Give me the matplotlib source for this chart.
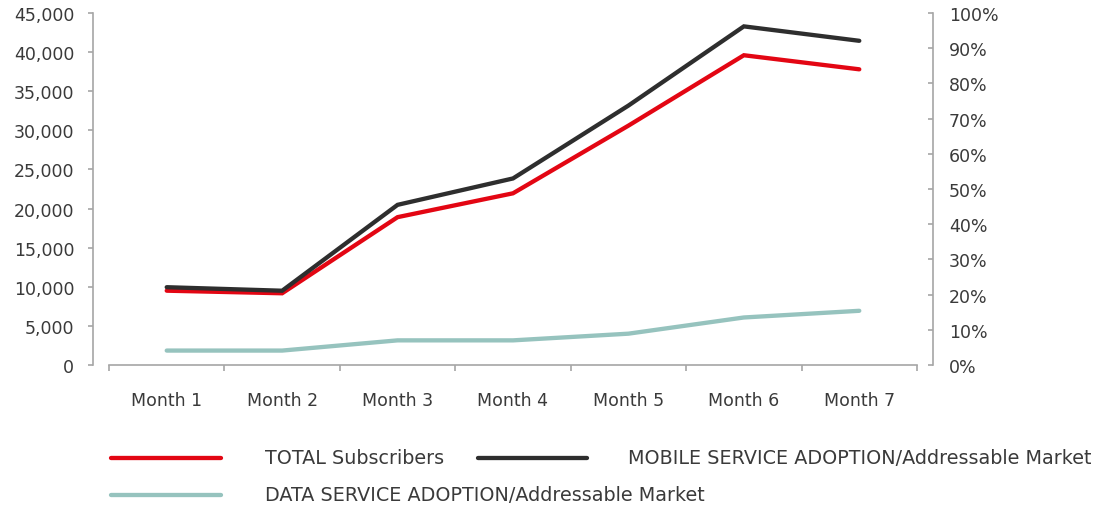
import matplotlib
matplotlib.use("Agg")
import matplotlib.pyplot as plt
from matplotlib.lines import Line2D
from matplotlib.ticker import FuncFormatter, FixedLocator
import numpy as np

months = ["Month 1", "Month 2", "Month 3", "Month 4", "Month 5", "Month 6", "Month 7"]
total_subscribers = [9500, 9170, 18900, 21950, 30600, 39600, 37800]
mobile_adoption = [22.1, 21.1, 45.5, 53.0, 73.7, 96.2, 92.1]
data_adoption = [4.1, 4.1, 7.0, 7.0, 8.9, 13.5, 15.4]

series_labels = ["TOTAL Subscribers",
                 "MOBILE SERVICE ADOPTION/Addressable Market",
                 "DATA SERVICE ADOPTION/Addressable Market"]
colors = ["#e30613", "#2e2e2e", "#96c3be"]

plt.rcParams['font.family'] = ['DejaVu Sans']
TXT = "#3a3a3a"
AX = "#a6a6a6"
FS = 12.5
LFS = 13.8

W, H = 1105, 510
fig = plt.figure(figsize=(W / 100, H / 100), dpi=100)
ax = fig.add_axes([109 / W, 1 - 366 / H, (917 - 109) / W, (366 - 14) / H])
ax2 = ax.twinx()

x = np.arange(len(months)) + 0.5
lw = 3.1
ax.plot(x, total_subscribers, color=colors[0], lw=lw, solid_capstyle='round', solid_joinstyle='miter')
ax2.plot(x, mobile_adoption, color=colors[1], lw=lw, solid_capstyle='round', solid_joinstyle='miter')
ax2.plot(x, data_adoption, color=colors[2], lw=lw, solid_capstyle='round', solid_joinstyle='miter')

ax.set_xlim(0, len(months))
ax.set_ylim(0, 45000)
ax2.set_ylim(0, 100)

# spines
for a in (ax, ax2):
    a.spines['top'].set_visible(False)
    for s in ('left', 'right', 'bottom'):
        a.spines[s].set_color(AX)
        a.spines[s].set_linewidth(1.2)
ax.spines['right'].set_visible(False)
ax2.spines['left'].set_visible(False)
ax2.spines['bottom'].set_visible(False)
ax.spines['left'].set_position(('outward', 11.5))
ax2.spines['right'].set_position(('outward', 11.5))

# left axis
ax.set_yticks(np.arange(0, 45001, 5000))
ax.yaxis.set_major_formatter(FuncFormatter(lambda v, p: f"{int(v):,}"))
ax.tick_params(axis='y', direction='out', length=3.5, width=1.2, color=AX,
               labelsize=FS, labelcolor=TXT, pad=10)

# right axis
ax2.set_yticks(np.arange(0, 101, 10))
ax2.yaxis.set_major_formatter(FuncFormatter(lambda v, p: f"{int(v)}%"))
ax2.tick_params(axis='y', direction='in', length=3.5, width=1.2, color=AX,
                labelsize=FS, labelcolor=TXT, pad=11.5)

# x axis
ax.xaxis.set_major_locator(FixedLocator(np.arange(len(months) + 1)))
ax.xaxis.set_minor_locator(FixedLocator(x))
ax.set_xticklabels([], minor=False)
ax.set_xticklabels(months, minor=True)
ax.tick_params(axis='x', which='major', direction='out', length=4.5, width=1.2, color=AX)
ax.tick_params(axis='x', which='minor', length=0, labelsize=FS, labelcolor=TXT, pad=19)

# legend (manual layout)
def leg(x0, x1, y, color, label, tx):
    fig.add_artist(Line2D([x0 / W, x1 / W], [1 - y / H, 1 - y / H], color=color,
                          lw=lw, solid_capstyle='round', transform=fig.transFigure))
    fig.text(tx / W, 1 - y / H, label, color=TXT, fontsize=LFS, ha='left', va='center')

leg(111, 221, 459, colors[0], series_labels[0], 265)
leg(478, 587, 459, colors[1], series_labels[1], 628)
leg(111, 221, 496, colors[2], series_labels[2], 265)

fig.savefig("out.png", dpi=100)
